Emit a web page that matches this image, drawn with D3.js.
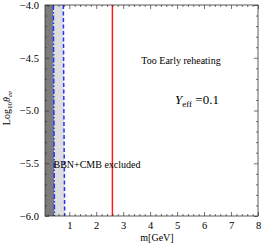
<!DOCTYPE html>
<html><head><meta charset="utf-8">
<script src="https://cdn.jsdelivr.net/npm/d3@7"></script>
<style>body{margin:0;background:#fff}svg{display:block}text{font-family:"Liberation Serif","DejaVu Serif",serif}</style>
</head><body><svg id="c" width="262" height="249"></svg>
<script>
// data
const logTheta = [-4.0, -5.0, -6.0];
const bbnEdge = [0.41, 0.43, 0.45];     // dash-dot boundary (dark region left of it)
const bbnOuter = [0.78, 0.80, 0.83];    // dashed boundary (light region)
const reheatM = 2.6;                     // red vertical line
const xTicks = [1, 2, 3, 4, 5, 6, 7, 8];
const yTicks = [-4.0, -4.5, -5.0, -5.5, -6.0];
const xDomain = [0.1, 8];
const yDomain = [-6, -4];

const svg = d3.select("#c");
const L = 45, R = 258, T = 5, B = 216;
const x = d3.scaleLinear().domain(xDomain).range([L, R]);
const y = d3.scaleLinear().domain(yDomain).range([B, T]);
const font = "Liberation Serif, DejaVu Serif, serif";

// dark region
const darkArea = d3.area().y(d => y(d[0])).x0(x(xDomain[0])).x1(d => x(d[1]));
svg.append("path").datum(logTheta.map((v, i) => [v, bbnEdge[i]]))
  .attr("d", darkArea).attr("fill", "#7c7c7c");
// light region
const lightArea = d3.area().y(d => y(d[0])).x0(d => x(d[1])).x1(d => x(d[2]));
svg.append("path").datum(logTheta.map((v, i) => [v, bbnEdge[i], bbnOuter[i]]))
  .attr("d", lightArea).attr("fill", "#dedede");

const line = d3.line().y(d => y(d[0])).x(d => x(d[1]));
svg.append("path").datum(logTheta.map((v, i) => [v, bbnEdge[i]]))
  .attr("d", line).attr("fill", "none").attr("stroke", "#2233ff")
  .attr("stroke-width", 1.5).attr("stroke-dasharray", "5,2,1.5,2");
svg.append("path").datum(logTheta.map((v, i) => [v, bbnOuter[i]]))
  .attr("d", line).attr("fill", "none").attr("stroke", "#2233ff")
  .attr("stroke-width", 1.5).attr("stroke-dasharray", "4,2.5");

// red line
svg.append("line").attr("x1", x(reheatM)).attr("x2", x(reheatM))
  .attr("y1", y(-4)).attr("y2", y(-6)).attr("stroke", "#ff1a1a").attr("stroke-width", 1.5);

// frame
svg.append("rect").attr("x", L).attr("y", T).attr("width", R - L).attr("height", B - T)
  .attr("fill", "none").attr("stroke", "#333").attr("stroke-width", 0.8);

// ticks
const xMinor = d3.range(0.2, 8.001, 0.2).filter(v => Math.abs(v - Math.round(v)) > 1e-6);
const yMinor = d3.range(-6, -3.999, 0.1).filter(v => Math.abs(v * 2 - Math.round(v * 2)) > 1e-6);
svg.append("g").attr("transform", `translate(0,${B})`)
  .call(d3.axisBottom(x).tickValues(xTicks).tickSize(-4).tickPadding(6).tickFormat(d3.format("d")));
svg.append("g").attr("transform", `translate(0,${B})`)
  .call(d3.axisBottom(x).tickValues(xMinor).tickSize(-2).tickFormat(""));
svg.append("g").attr("transform", `translate(0,${T})`)
  .call(d3.axisTop(x).tickValues(xTicks).tickSize(-4).tickFormat(""));
svg.append("g").attr("transform", `translate(0,${T})`)
  .call(d3.axisTop(x).tickValues(xMinor).tickSize(-2).tickFormat(""));
svg.append("g").attr("transform", `translate(${L},0)`)
  .call(d3.axisLeft(y).tickValues(yTicks).tickSize(-4).tickPadding(6)
    .tickFormat(d => d3.format(".1f")(d).replace("-", "\u2212")));
svg.append("g").attr("transform", `translate(${L},0)`)
  .call(d3.axisLeft(y).tickValues(yMinor).tickSize(-2).tickFormat(""));
svg.append("g").attr("transform", `translate(${R},0)`)
  .call(d3.axisRight(y).tickValues(yTicks).tickSize(-4).tickFormat(""));
svg.append("g").attr("transform", `translate(${R},0)`)
  .call(d3.axisRight(y).tickValues(yMinor).tickSize(-2).tickFormat(""));
svg.selectAll(".domain").remove();
svg.selectAll("g").attr("font-family", font);
svg.selectAll(".tick line").attr("stroke", "#333").attr("stroke-width", 0.7);
svg.selectAll(".tick text").attr("font-family", font).attr("font-size", 10.5).attr("fill", "#000");

// axis labels
svg.append("text").attr("x", 157).attr("y", 241).attr("text-anchor", "middle")
  .attr("font-family", font).attr("font-size", 10).text("m[GeV]");
const yl = svg.append("text").attr("transform", "translate(10,108) rotate(-90)")
  .attr("text-anchor", "middle").attr("font-family", font).attr("font-size", 10);
yl.append("tspan").text("Log");
yl.append("tspan").attr("font-size", 7).attr("dy", 2).text("10");
yl.append("tspan").attr("dy", -2).attr("font-style", "italic").text("θ");
yl.append("tspan").attr("font-size", 7).attr("dy", 2).attr("font-style", "italic").text("ee");

// annotations
svg.append("text").attr("x", 181).attr("y", 64).attr("text-anchor", "middle")
  .attr("font-family", font).attr("font-size", 10).text("Too Early reheating");
const ye = svg.append("text").attr("x", 197).attr("y", 104).attr("text-anchor", "middle")
  .attr("font-family", font).attr("font-size", 13);
ye.append("tspan").attr("font-style", "italic").text("Y");
ye.append("tspan").attr("font-size", 9).attr("dy", 3).text("eff");
ye.append("tspan").attr("dy", -3).text(" =0.1");
svg.append("text").attr("x", 97).attr("y", 168).attr("text-anchor", "middle")
  .attr("font-family", font).attr("font-size", 10).text("BBN+CMB excluded");
</script></body></html>
